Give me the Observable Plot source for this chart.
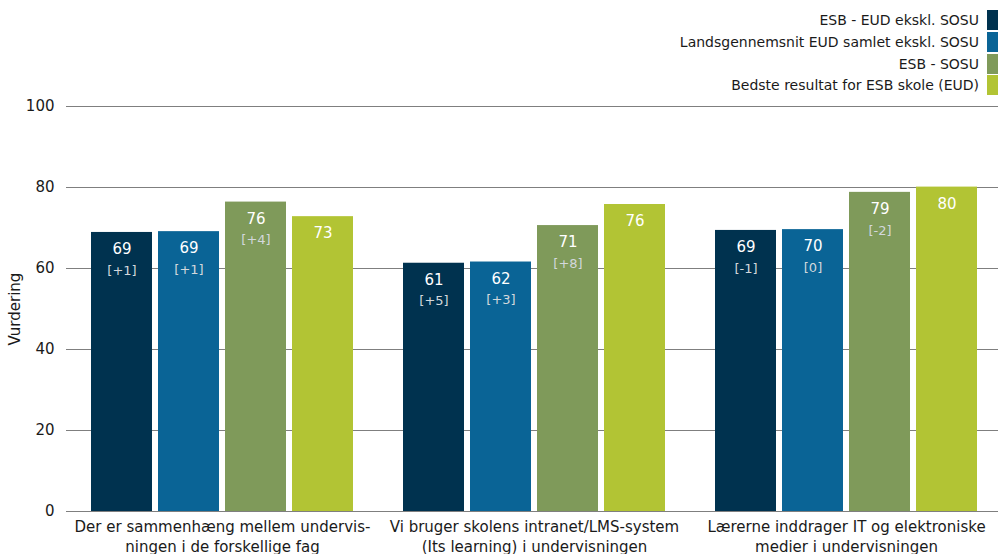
<!DOCTYPE html>
<html><head><meta charset="utf-8">
<script src="https://cdn.jsdelivr.net/npm/d3@7"></script>
<script src="https://cdn.jsdelivr.net/npm/@observablehq/plot@0.6"></script>
<style>
body{margin:0;background:#fff;overflow:hidden;font-family:"DejaVu Sans",sans-serif;}
#legend{height:96px;position:relative;width:998px;}
.item{position:absolute;right:0;display:flex;align-items:center;height:20px;font-size:14px;color:#1a1a1a;white-space:nowrap}
.sw{width:11px;height:20px;margin-left:8px}
</style></head><body>
<div id="legend"></div><div id="chart"></div>
<script>
const categories = [
  "Der er sammenhæng mellem undervis-\nningen i de forskellige fag",
  "Vi bruger skolens intranet/LMS-system\n(Its learning) i undervisningen",
  "Lærerne inddrager IT og elektroniske\nmedier i undervisningen"
];
const series = ["ESB - EUD ekskl. SOSU", "Landsgennemsnit EUD samlet ekskl. SOSU", "ESB - SOSU", "Bedste resultat for ESB skole (EUD)"];
const colors = ["#00324f", "#0a6496", "#7f9a5a", "#b2c434"];
const esbEud = [68.9, 61.3, 69.4];
const landsgennemsnit = [69.1, 61.6, 69.6];
const esbSosu = [76.4, 70.6, 78.8];
const bedste = [72.8, 75.8, 80.1];
const deltaEsbEud = ["+1", "+5", "-1"];
const deltaLands = ["+1", "+3", "0"];
const deltaSosu = ["+4", "+8", "-2"];
const yTicks = [0, 20, 40, 60, 80, 100];

const valueArrays = [esbEud, landsgennemsnit, esbSosu, bedste];
const deltaArrays = [deltaEsbEud, deltaLands, deltaSosu, null];
const data = [];
categories.forEach((c, i) => series.forEach((s, j) => data.push({
  cat: c, series: s, value: valueArrays[j][i], delta: deltaArrays[j] ? deltaArrays[j][i] : null
})));

// legend
const legend = document.getElementById("legend");
const tops = [10, 32, 54, 75];
series.forEach((s, j) => {
  const it = document.createElement("div");
  it.className = "item";
  it.style.top = tops[j] + "px";
  it.innerHTML = `<span>${s}</span><span class="sw" style="background:${colors[j]}"></span>`;
  legend.appendChild(it);
});

const plot = Plot.plot({
  width: 998, height: 458,
  marginLeft: 67, marginRight: 0, marginTop: 10, marginBottom: 43,
  style: {fontFamily: "DejaVu Sans, sans-serif", fontSize: "14px", color: "#1a1a1a", background: "white"},
  fx: {domain: categories, range: [65, 1004], paddingInner: 0.153, paddingOuter: 0.077, label: null},
  x: {domain: series, paddingInner: 0.09, paddingOuter: 0, axis: null},
  y: {domain: [0, 100], label: "Vurdering"},
  color: {domain: series, range: colors},
  marks: [
    Plot.ruleY(yTicks, {stroke: "#7f7f7f", strokeWidth: 1, insetLeft: -24, insetRight: -26}),
    Plot.barY(data, {fx: "cat", x: "series", y: "value", fill: "series"}),
    Plot.text(data, {fx: "cat", x: "series", y: "value", text: d => Math.round(d.value), dy: 17, fill: "white", fontSize: 15}),
    Plot.text(data.filter(d => d.delta != null), {fx: "cat", x: "series", y: "value", text: d => `[${d.delta}]`, dy: 38, fill: "#d3d8dc", fontSize: 13}),
    Plot.axisY({ticks: yTicks, tickSize: 0, tickPadding: 12, dx: -24, fontSize: 15, label: "Vurdering", labelAnchor: "center", labelOffset: 81, labelArrow: "none"}),
    Plot.axisFx({anchor: "bottom", tickSize: 0, tickPadding: 6, fontSize: 15, lineHeight: 1.33, label: null})
  ]
});
document.getElementById("chart").appendChild(plot);
</script>
</body></html>
